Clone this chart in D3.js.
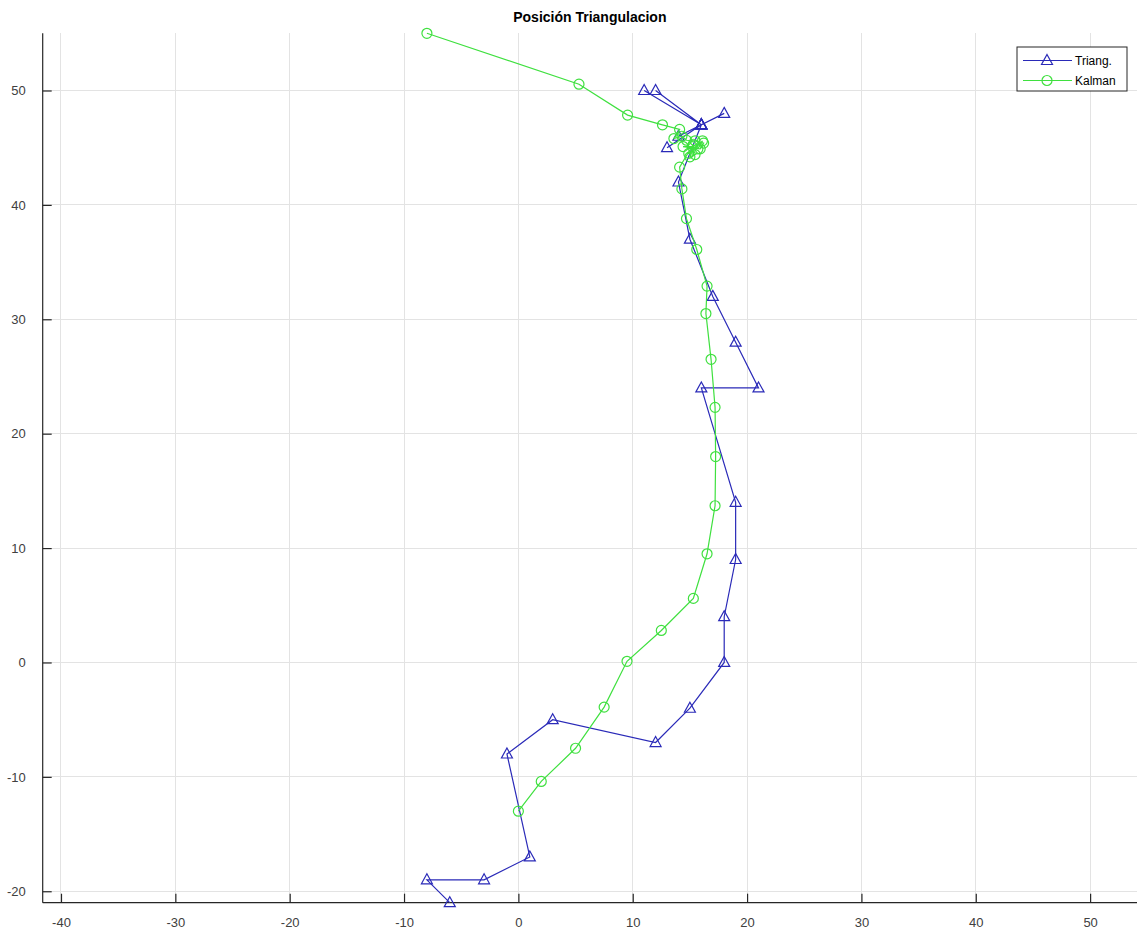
<!DOCTYPE html>
<html>
<head>
<meta charset="utf-8">
<script src="https://cdn.jsdelivr.net/npm/d3@7"></script>
<style>
  html, body { margin: 0; padding: 0; background: #ffffff; }
  svg { display: block; font-family: "Liberation Sans", Arial, Helvetica, sans-serif; }
</style>
</head>
<body>
<svg id="chart" width="1138" height="932"></svg>
<script>
// Triangulated positions (x, y)
const triangX = [11, 16, 12, 16, 18, 16, 14, 16, 13, 16,
                 14, 15, 17, 19, 21, 16, 19, 19, 18, 18,
                 15, 12, 3, -1, 1, -3, -8, -6];
const triangY = [50, 47, 50, 47, 48, 47, 46, 47, 45, 47,
                 42, 37, 32, 28, 24, 24, 14, 9, 4, 0,
                 -4, -7, -5, -8, -17, -19, -19, -21];

// Kalman-filtered positions (x, y)
const kalmanX = [-8, 5.3, 9.55, 12.6, 14.1,
                 13.6, 14.3, 14.7, 15.45, 16.2, 15.9, 14.4, 15.2, 15.7, 16.1, 14.9, 15.45, 15.0, 15.3,
                 14.1, 14.3, 14.7, 15.6, 16.5, 16.4, 16.85, 17.2, 17.25, 17.2,
                 16.5, 15.3, 12.5, 9.5, 7.5, 5.0, 2.0, 0.0];
const kalmanY = [55, 50.55, 47.85, 47.0, 46.6,
                 45.8, 46.0, 45.65, 45.6, 45.4, 44.9, 45.1, 45.1, 44.9, 45.6, 44.5, 44.4, 44.2, 45.3,
                 43.3, 41.4, 38.8, 36.1, 32.9, 30.5, 26.5, 22.3, 18.0, 13.7,
                 9.5, 5.6, 2.8, 0.1, -3.9, -7.5, -10.4, -13.0];

const xTicks = [-40, -30, -20, -10, 0, 10, 20, 30, 40, 50];
const yTicks = [-20, -10, 0, 10, 20, 30, 40, 50];
const seriesNames = ["Triang.", "Kalman"];
const titleText = "Posición Triangulacion";

const plot = { left: 42.7, right: 1137, top: 33.3, bottom: 902.7 };
const axisColor = "#262626";
const gridColor = "#e3e3e3";
const blue = "#2a2ab8";
const green = "#3fe03f";

const svg = d3.select("#chart");

const x = d3.scaleLinear().domain([-41.6, 54.1]).range([plot.left, plot.right]);
const y = d3.scaleLinear().domain([-21, 55]).range([plot.bottom, plot.top]);

// grid
const grid = svg.append("g");
grid.selectAll("line.gx").data(xTicks).join("line")
  .attr("x1", d => x(d)).attr("x2", d => x(d))
  .attr("y1", plot.top).attr("y2", plot.bottom)
  .attr("stroke", gridColor).attr("stroke-width", 1).attr("shape-rendering", "crispEdges");
grid.selectAll("line.gy").data(yTicks).join("line")
  .attr("y1", d => y(d)).attr("y2", d => y(d))
  .attr("x1", plot.left).attr("x2", plot.right)
  .attr("stroke", gridColor).attr("stroke-width", 1).attr("shape-rendering", "crispEdges");

// axes (ticks pointing inward, plain hyphen minus in labels)
const fmt = d => String(d);
const xAxis = d3.axisBottom(x).tickValues(xTicks).tickFormat(fmt).tickSize(-9).tickPadding(15).tickSizeOuter(0);
const yAxis = d3.axisLeft(y).tickValues(yTicks).tickFormat(fmt).tickSize(-9).tickPadding(17).tickSizeOuter(0);

const gx = svg.append("g").attr("transform", `translate(0,${plot.bottom})`).call(xAxis);
const gy = svg.append("g").attr("transform", `translate(${plot.left},0)`).call(yAxis);
[gx, gy].forEach(g => {
  g.select(".domain").attr("stroke", axisColor).attr("stroke-width", 1.2);
  g.selectAll(".tick line").attr("stroke", axisColor).attr("stroke-width", 1.2);
  g.selectAll(".tick text").attr("fill", "#404040")
    .attr("font-size", "13px").attr("font-family", "Liberation Sans, Arial, sans-serif");
});
gy.select(".domain").attr("d", `M0,${plot.top}V${plot.bottom}`);
gx.select(".domain").attr("d", `M${plot.left},0H${plot.right}`);

// data series
const triang = triangX.map((v, i) => [v, triangY[i]]);
const kalman = kalmanX.map((v, i) => [v, kalmanY[i]]);
const line = d3.line().x(d => x(d[0])).y(d => y(d[1]));

const triPath = "M0,-6L5.5,4L-5.5,4Z";

svg.append("path").datum(triang).attr("d", line)
  .attr("fill", "none").attr("stroke", blue).attr("stroke-width", 1.2);
svg.append("g").selectAll("path").data(triang).join("path")
  .attr("d", triPath)
  .attr("transform", d => `translate(${x(d[0])},${y(d[1])})`)
  .attr("fill", "none").attr("stroke", blue).attr("stroke-width", 1.2);

svg.append("path").datum(kalman).attr("d", line)
  .attr("fill", "none").attr("stroke", green).attr("stroke-width", 1.2);
svg.append("g").selectAll("circle").data(kalman).join("circle")
  .attr("cx", d => x(d[0])).attr("cy", d => y(d[1])).attr("r", 5)
  .attr("fill", "none").attr("stroke", green).attr("stroke-width", 1.2);

// title
svg.append("text")
  .attr("x", (plot.left + plot.right) / 2).attr("y", 22)
  .attr("text-anchor", "middle")
  .attr("font-size", "14px").attr("font-weight", "bold").attr("fill", "#000")
  .text(titleText);

// legend
const lg = svg.append("g").attr("transform", "translate(1017,47)");
lg.append("rect").attr("width", 110).attr("height", 44)
  .attr("fill", "#fff").attr("stroke", axisColor).attr("stroke-width", 1);
const legendItems = [
  { name: seriesNames[0], color: blue, marker: "tri" },
  { name: seriesNames[1], color: green, marker: "circle" }
];
legendItems.forEach((it, i) => {
  const cy = 13.5 + i * 20;
  lg.append("line").attr("x1", 6).attr("x2", 55).attr("y1", cy).attr("y2", cy)
    .attr("stroke", it.color).attr("stroke-width", 1.2);
  if (it.marker === "tri") {
    lg.append("path").attr("d", triPath).attr("transform", `translate(30,${cy})`)
      .attr("fill", "none").attr("stroke", it.color).attr("stroke-width", 1.2);
  } else {
    lg.append("circle").attr("cx", 30).attr("cy", cy).attr("r", 5)
      .attr("fill", "none").attr("stroke", it.color).attr("stroke-width", 1.2);
  }
  lg.append("text").attr("x", 58).attr("y", cy + 4)
    .attr("font-size", "12px").attr("fill", "#000").text(it.name);
});
</script>
</body>
</html>
